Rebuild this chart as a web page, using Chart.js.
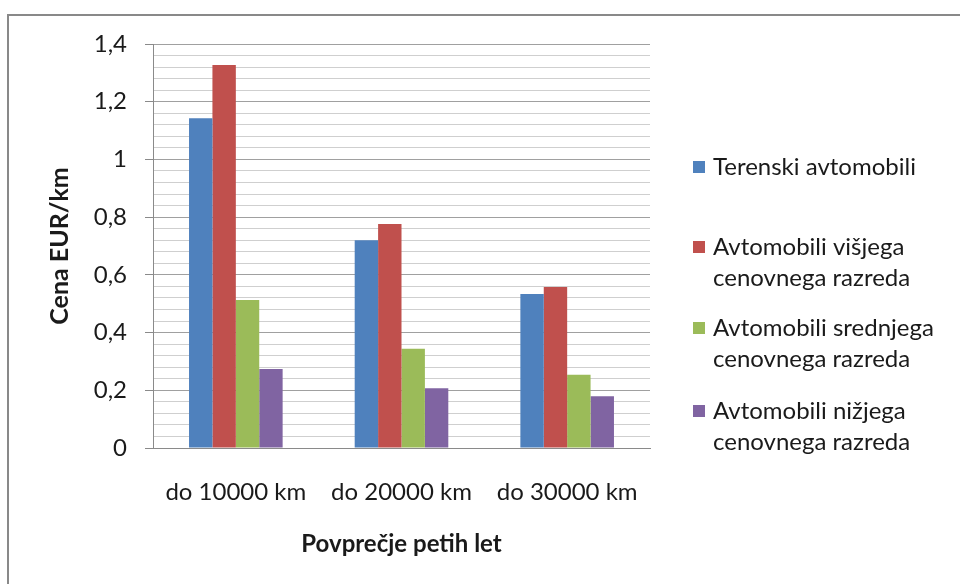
<!DOCTYPE html>
<html>
<head>
<meta charset="utf-8">
<script src="https://cdn.jsdelivr.net/npm/chart.js@4/dist/chart.umd.min.js"></script>
<style>
  html, body { margin: 0; padding: 0; background: #fff; }
  #wrap { position: relative; width: 960px; height: 584px; }
</style>
</head>
<body>
<div id="wrap"><canvas id="chart" width="960" height="584"></canvas></div>
<script>
const categories = ["do 10000 km", "do 20000 km", "do 30000 km"];
const seriesNames = [
  ["Terenski avtomobili"],
  ["Avtomobili višjega", "cenovnega razreda"],
  ["Avtomobili srednjega", "cenovnega razreda"],
  ["Avtomobili nižjega", "cenovnega razreda"]
];
const terenski = [1.143, 0.72, 0.534];
const visji = [1.327, 0.776, 0.558];
const srednji = [0.513, 0.344, 0.254];
const nizji = [0.274, 0.207, 0.179];
const yTitle = "Cena EUR/km";
const xTitle = "Povprečje petih let";

const colors = ["#4f81bd", "#c0504d", "#9bbb59", "#8064a2"];
const fontFamily = "Lato, 'Open Sans', sans-serif";

function isMajor(v) {
  const r = v / 0.2;
  return Math.abs(r - Math.round(r)) < 1e-6;
}

function formatTick(v) {
  if (!isMajor(v)) return "";
  const rounded = Math.round(v * 10) / 10;
  return String(rounded).replace(".", ",");
}

// frame round the chart and the legend on the right
const framePlugin = {
  id: "frame",
  beforeDraw(chart) {
    const ctx = chart.ctx;
    ctx.save();
    ctx.strokeStyle = "#898989";
    ctx.lineWidth = 2;
    ctx.strokeRect(8, 15, 980, 600);
    ctx.restore();
  }
};

const legendPlugin = {
  id: "sideLegend",
  afterDraw(chart) {
    const ctx = chart.ctx;
    const centers = [167, 247, 328, 411];
    const lineGap = 31;
    ctx.save();
    ctx.font = "24px " + fontFamily;
    ctx.textBaseline = "middle";
    chart.data.datasets.forEach((ds, i) => {
      const y = centers[i];
      ctx.fillStyle = ds.backgroundColor;
      ctx.fillRect(693, y - 6, 12, 12);
      ctx.fillStyle = "#1a1a1a";
      seriesNames[i].forEach((line, j) => {
        ctx.fillText(line, 713, y + j * lineGap);
      });
    });
    ctx.restore();
  }
};

const seriesData = [terenski, visji, srednji, nizji];

new Chart(document.getElementById("chart"), {
  type: "bar",
  data: {
    labels: categories,
    datasets: seriesData.map((values, i) => ({
      label: seriesNames[i].join(" "),
      data: values,
      backgroundColor: colors[i],
      borderWidth: 0,
      barPercentage: 1,
      categoryPercentage: 0.565
    }))
  },
  options: {
    responsive: false,
    animation: false,
    devicePixelRatio: 1,
    layout: { padding: { left: 0, top: 44, right: 310, bottom: 0 } },
    plugins: {
      legend: { display: false },
      tooltip: { enabled: false }
    },
    scales: {
      x: {
        afterFit: (scale) => { scale.height = 136; },
        grid: { display: false, drawTicks: false },
        border: { display: true, color: "#8a8a8a", width: 1 },
        ticks: {
          color: "#1a1a1a",
          padding: 30,
          font: { family: fontFamily, size: 24 }
        },
        title: {
          display: true,
          text: xTitle,
          color: "#1a1a1a",
          padding: { top: 0, bottom: 25 },
          font: { family: fontFamily, size: 24, weight: "bold" }
        }
      },
      y: {
        min: 0,
        max: 1.4,
        afterFit: (scale) => { scale.width = 153; },
        border: { display: true, color: "#8a8a8a", width: 1 },
        grid: {
          color: (c) => (c.tick && isMajor(c.tick.value) ? "#a0a0a0" : "#cfcfcf"),
          tickColor: (c) => (c.tick && isMajor(c.tick.value) ? "#8a8a8a" : "rgba(0,0,0,0)"),
          tickLength: 8,
          lineWidth: 1
        },
        ticks: {
          stepSize: 0.04,
          autoSkip: false,
          color: "#1a1a1a",
          padding: 18,
          font: { family: fontFamily, size: 24 },
          callback: (v) => formatTick(v)
        },
        title: {
          display: true,
          text: yTitle,
          color: "#1a1a1a",
          padding: { top: 45, bottom: 0 },
          font: { family: fontFamily, size: 25, weight: "bold" }
        }
      }
    }
  },
  plugins: [framePlugin, legendPlugin]
});
</script>
</body>
</html>
